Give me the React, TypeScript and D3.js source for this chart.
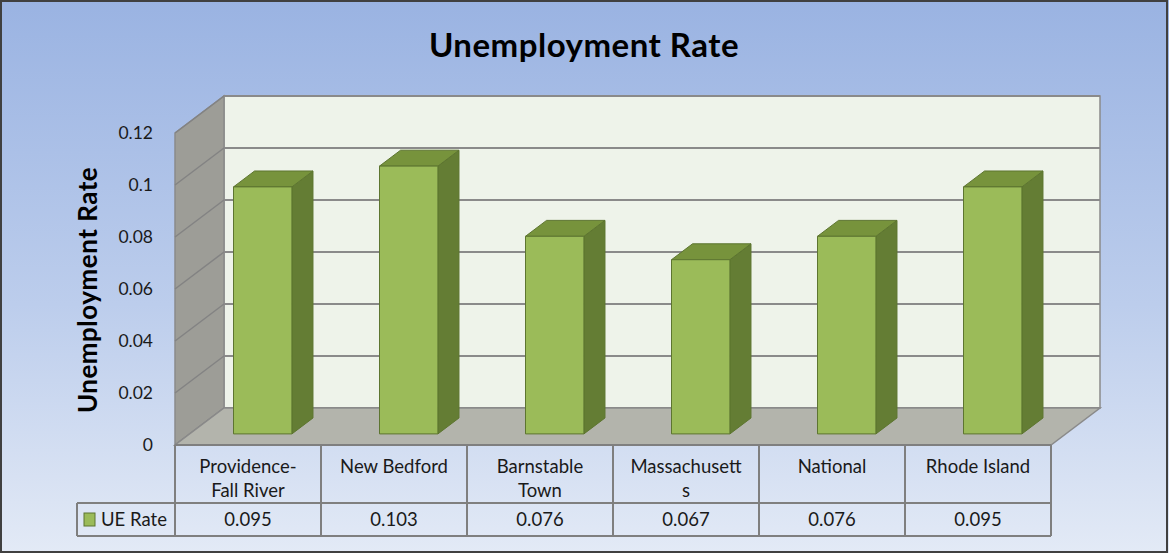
import React from 'react';
import * as d3 from 'd3';

const categories = [["Providence-", "Fall River"], ["New Bedford"], ["Barnstable", "Town"], ["Massachusett", "s"], ["National"], ["Rhode Island"]];
const ueRate = [0.095, 0.103, 0.076, 0.067, 0.076, 0.095];
const yTicks = [0, 0.02, 0.04, 0.06, 0.08, 0.1, 0.12];
const seriesName = "UE Rate";

const W = 1169;
const H = 553;
const FONT = "Lato, 'Open Sans', sans-serif";

export default function App() {
  // 3d box setup: front plane + depth offset
  const left = 175, right = 1051;
  const base = 445, top = 133;
  const DX = 49, DY = 37;
  const z0 = 0.3, z1 = 0.73; // bar front/back depth

  const x = d3.scaleBand<number>().domain(d3.range(categories.length)).range([left, right]).paddingInner(0).paddingOuter(0);
  const y = d3.scaleLinear().domain([0, 0.12]).range([base, top]);

  const p = (px: number, v: number, z: number) => [px + z * DX, y(v) - z * DY];
  const poly = (pts: number[][]) => pts.map(d => d.join(",")).join(" ");

  const barW = x.bandwidth() * 0.4;
  const rowTop = base, rowMid = 503, rowBot = 536;
  const legendLeft = 77;

  return (
    <svg width={W} height={H} style={{ position: "absolute", left: 0, top: 0 }} fontFamily={FONT}>
      <defs>
        <linearGradient id="bg" x1="0" y1="0" x2="0" y2="1">
          <stop offset="0" stopColor="#9ab3e2" />
          <stop offset="0.55" stopColor="#bccdec" />
          <stop offset="1" stopColor="#e3eaf6" />
        </linearGradient>
      </defs>
      <rect x={0} y={0} width={W} height={H} fill="url(#bg)" />
      <rect x={1} y={1} width={W - 3} height={H - 2} fill="none" stroke="#404040" strokeWidth={2} />

      {/* back wall */}
      <polygon points={poly([p(left, 0, 1), p(right, 0, 1), p(right, 0.12, 1), p(left, 0.12, 1)])} fill="#eef3ea" stroke="#8a8a8a" strokeWidth={1.5} />
      {yTicks.map(t => (
        <line key={"bg" + t} x1={p(left, t, 1)[0]} y1={p(left, t, 1)[1]} x2={p(right, t, 1)[0]} y2={p(right, t, 1)[1]} stroke="#8a8a8a" strokeWidth={2} />
      ))}
      {/* side wall */}
      <polygon points={poly([p(left, 0, 0), p(left, 0, 1), p(left, 0.12, 1), p(left, 0.12, 0)])} fill="#9d9d97" stroke="#8a8a8a" strokeWidth={1.5} />
      {yTicks.map(t => (
        <line key={"sg" + t} x1={p(left, t, 0)[0]} y1={p(left, t, 0)[1]} x2={p(left, t, 1)[0]} y2={p(left, t, 1)[1]} stroke="#838383" strokeWidth={1.5} />
      ))}
      {/* floor */}
      <polygon points={poly([p(left, 0, 0), p(right, 0, 0), p(right, 0, 1), p(left, 0, 1)])} fill="#b3b4ac" stroke="#8a8a8a" strokeWidth={1.5} />

      {/* bars */}
      {ueRate.map((v, i) => {
        const xl = x(i)! + (x.bandwidth() - barW) / 2;
        const xr = xl + barW;
        return (
          <g key={i} stroke="#5d7530" strokeWidth={1} strokeLinejoin="round">
            <polygon points={poly([p(xr, 0, z0), p(xr, 0, z1), p(xr, v, z1), p(xr, v, z0)])} fill="#647d34" />
            <polygon points={poly([p(xl, v, z0), p(xr, v, z0), p(xr, v, z1), p(xl, v, z1)])} fill="#77933c" />
            <polygon points={poly([p(xl, 0, z0), p(xr, 0, z0), p(xr, v, z0), p(xl, v, z0)])} fill="#9bbb59" />
          </g>
        );
      })}

      {/* y tick labels */}
      {yTicks.map(t => (
        <text key={"yt" + t} x={153} y={y(t)} dy="0.35em" textAnchor="end" fontSize={17.5} fill="#1a1a1a">{String(t)}</text>
      ))}

      {/* data table */}
      <g stroke="#7f7f7f" strokeWidth={2} fill="none">
        <line x1={left} y1={rowTop} x2={right} y2={rowTop} />
        <line x1={legendLeft} y1={rowMid} x2={right} y2={rowMid} />
        <line x1={legendLeft} y1={rowBot} x2={right} y2={rowBot} />
        <line x1={legendLeft} y1={rowMid} x2={legendLeft} y2={rowBot} />
        {d3.range(categories.length + 1).map(i => {
          const xx = i < categories.length ? x(i)! : right;
          return <line key={i} x1={xx} y1={rowTop} x2={xx} y2={rowBot} />;
        })}
      </g>
      {categories.map((lines, i) => (
        <text key={"c" + i} x={x(i)! + x.bandwidth() / 2} y={467} textAnchor="middle" fontSize={18.5} fill="#1a1a1a">
          {lines.map((l, j) => (
            <tspan key={j} x={x(i)! + x.bandwidth() / 2} dy={j === 0 ? "0.35em" : 24}>{l}</tspan>
          ))}
        </text>
      ))}
      {ueRate.map((v, i) => (
        <text key={"v" + i} x={x(i)! + x.bandwidth() / 2} y={(rowMid + rowBot) / 2} dy="0.35em" textAnchor="middle" fontSize={18.5} fill="#1a1a1a">{String(v)}</text>
      ))}
      <rect x={84} y={513} width={11} height={13} fill="#9bbb59" stroke="#5d7530" strokeWidth={1} />
      <text x={101} y={(rowMid + rowBot) / 2} dy="0.35em" fontSize={18.5} fill="#1a1a1a">{seriesName}</text>

      {/* titles */}
      <text x={584} y={45} dy="0.35em" textAnchor="middle" fontSize={33} fontWeight="bold" fill="#000" letterSpacing={0.5}>Unemployment Rate</text>
      <text transform={`translate(88,290) rotate(-90)`} dy="0.35em" textAnchor="middle" fontSize={26} fontWeight="bold" fill="#000" letterSpacing={0.5}>Unemployment Rate</text>
    </svg>
  );
}
